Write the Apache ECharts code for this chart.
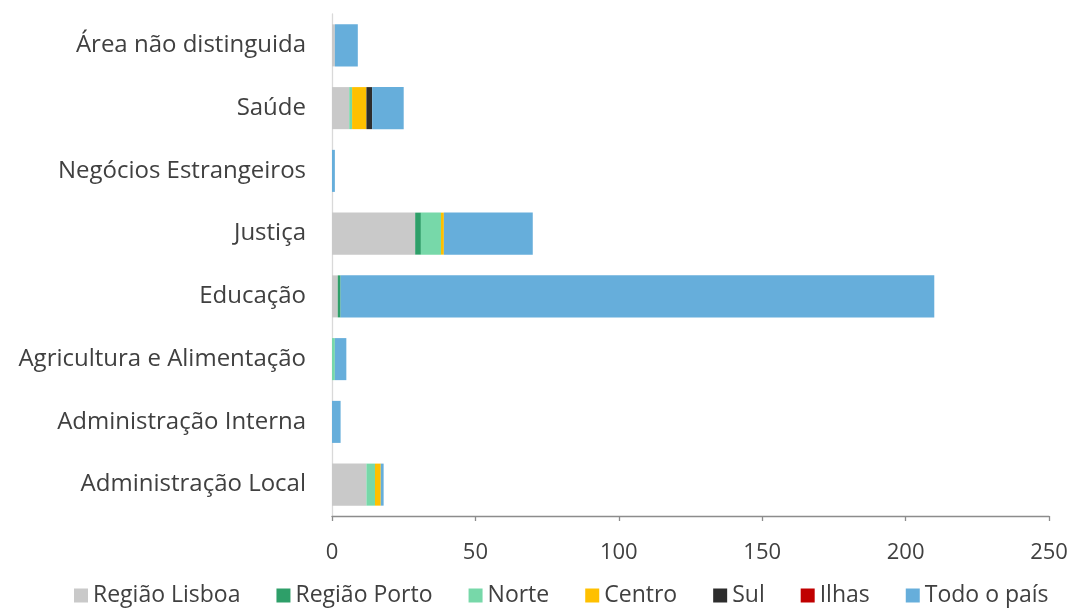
<!DOCTYPE html>
<html>
<head>
<meta charset="utf-8">
<script src="https://cdn.jsdelivr.net/npm/echarts@6/dist/echarts.min.js"></script>
<style>
  html, body { margin: 0; padding: 0; background: #fff; }
  #chart { width: 1072px; height: 609px; }
</style>
</head>
<body>
<div id="chart"></div>
<script>
// categorias (de baixo para cima)
const categories = [
  'Administração Local',
  'Administração Interna',
  'Agricultura e Alimentação',
  'Educação',
  'Justiça',
  'Negócios Estrangeiros',
  'Saúde',
  'Área não distinguida'
];

const regiaoLisboa = [12, 0, 0, 2, 29, 0, 6, 1];
const regiaoPorto  = [0, 0, 0, 1, 2, 0, 0, 0];
const norte        = [3, 0, 1, 0, 7, 0, 1, 0];
const centro       = [2, 0, 0, 0, 1, 0, 5, 0];
const sul          = [0, 0, 0, 0, 0, 0, 2, 0];
const ilhas        = [0, 0, 0, 0, 0, 0, 0, 0];
const todoPais     = [1, 3, 4, 207, 31, 1, 11, 8];

const xTicks = [0, 50, 100, 150, 200, 250];

const fontFamily = 'Open Sans';
const textColor = '#404040';

const seriesDefs = [
  { name: 'Região Lisboa', data: regiaoLisboa, color: '#c9c9c9' },
  { name: 'Região Porto', data: regiaoPorto, color: '#2e9f69' },
  { name: 'Norte', data: norte, color: '#77d8a9' },
  { name: 'Centro', data: centro, color: '#ffc000' },
  { name: 'Sul', data: sul, color: '#2d2d2d' },
  { name: 'Ilhas', data: ilhas, color: '#c00000' },
  { name: 'Todo o país', data: todoPais, color: '#66aedb' }
];

const myChart = echarts.init(document.getElementById('chart'));

const option = {
  animation: false,
  textStyle: { fontFamily: fontFamily },
  grid: { left: 332, right: 23, top: 14, bottom: 93 },
  legend: {
    top: 579,
    left: 69,
    itemWidth: 14,
    itemHeight: 14,
    itemGap: 36,
    icon: 'rect',
    textStyle: { fontSize: 23, color: textColor, fontFamily: fontFamily },
    data: seriesDefs.map(s => s.name)
  },
  xAxis: {
    type: 'value',
    min: xTicks[0],
    max: xTicks[xTicks.length - 1],
    interval: 50,
    axisLine: { show: true, lineStyle: { color: '#8c8c8c', width: 1.3 } },
    axisTick: { show: true, length: 5, lineStyle: { color: '#8c8c8c', width: 1.3 } },
    axisLabel: { fontSize: 22, color: textColor, margin: 26 },
    splitLine: { show: false }
  },
  yAxis: {
    type: 'category',
    data: categories,
    axisLine: { show: true, lineStyle: { color: '#d9d9d9', width: 1.3 } },
    axisTick: { show: false },
    axisLabel: { fontSize: 24, color: textColor, margin: 26 }
  },
  series: seriesDefs.map(s => ({
    name: s.name,
    type: 'bar',
    stack: 'total',
    data: s.data,
    barWidth: '67%',
    itemStyle: { color: s.color },
    emphasis: { disabled: true }
  }))
};

myChart.setOption(option);
</script>
</body>
</html>
